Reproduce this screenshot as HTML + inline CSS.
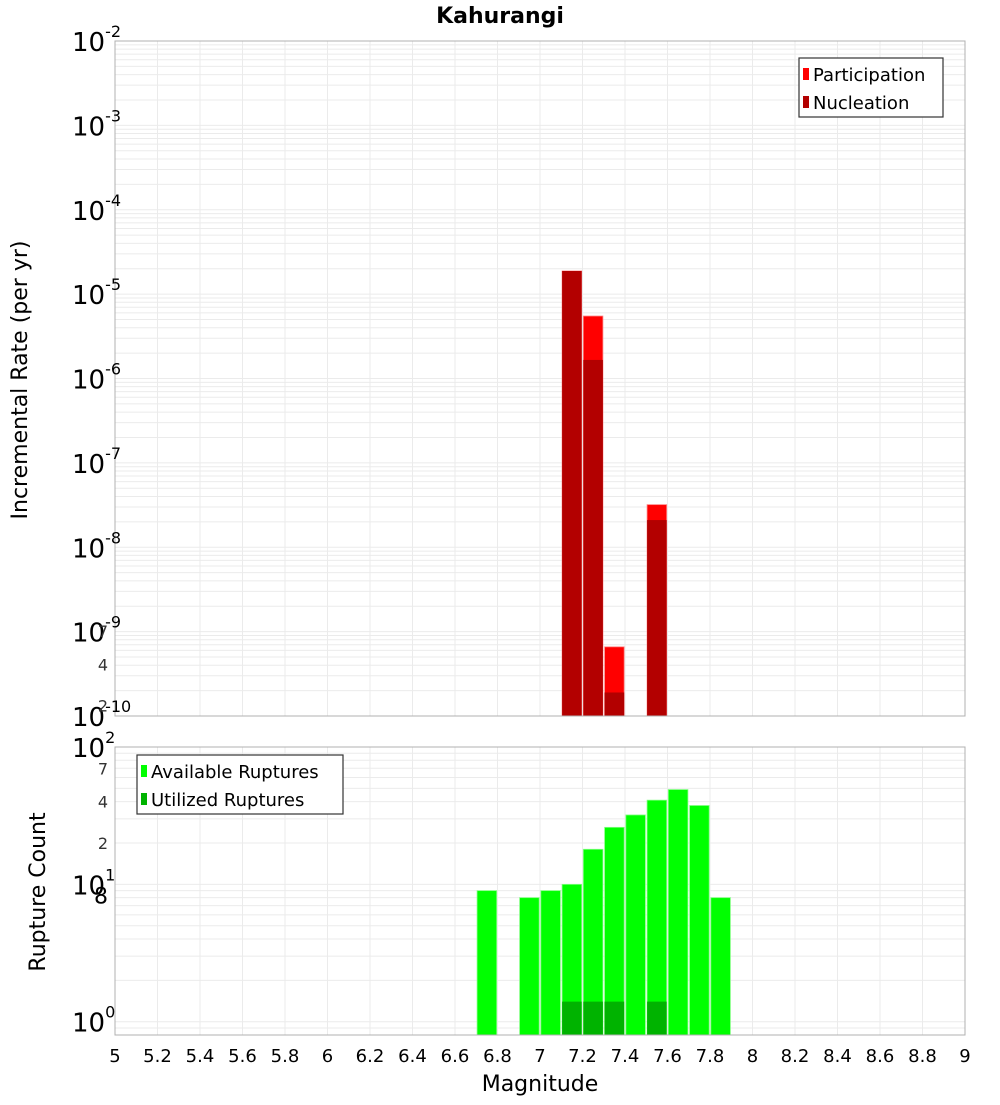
<!DOCTYPE html>
<html><head><meta charset="utf-8"><style>
body{margin:0;background:#fff;font-family:"Liberation Sans","DejaVu Sans",sans-serif}
svg text{font-family:"DejaVu Sans","Liberation Sans",sans-serif}
</style></head><body>
<svg id="c" width="1000" height="1100" xmlns="http://www.w3.org/2000/svg"></svg>
<script>
const topMags=[7.1,7.2,7.3,7.5];
const participation=[1.88e-5,5.5e-6,6.6e-10,3.2e-8];
const nucleation=[1.88e-5,1.66e-6,1.9e-10,2.1e-8];
const botMags=[6.7,6.9,7.0,7.1,7.2,7.3,7.4,7.5,7.6,7.7,7.8];
const available=[9,8,9,10,18,26,32,41,49,37.5,8];
const utilMags=[7.1,7.2,7.3,7.5];
const utilized=[1.4,1.4,1.4,1.4];
const xTicks=[5,5.2,5.4,5.6,5.8,6,6.2,6.4,6.6,6.8,7,7.2,7.4,7.6,7.8,8,8.2,8.4,8.6,8.8,9];
const topExps=[-2,-3,-4,-5,-6,-7,-8,-9,-10];
const botMinor=[[7,2],[4,2],[2,2],[7,1],[4,1],[2,1],[8,0]];

const NS="http://www.w3.org/2000/svg",svg=document.getElementById('c');
function el(t,a,p){const e=document.createElementNS(NS,t);for(const k in a)e.setAttribute(k,a[k]);(p||svg).appendChild(e);return e;}
const L=115,R=965;
const x=m=>L+(m-5)*(R-L)/4;
const T1=41,B1=716,yT=v=>T1+(-2-Math.log10(v))*(B1-T1)/8;
const T2=747,B2=1035,lmin=Math.log10(0.8),lmax=2,yB=v=>B2-(Math.log10(v)-lmin)*(B2-T2)/(lmax-lmin);

function grid(top,bot,yf,lo,hi){
  const g=el('g',{});
  for(let e=lo;e<hi;e++)for(let k=1;k<10;k++){const v=k*Math.pow(10,e),yy=yf(v);if(yy<top-0.5||yy>bot+0.5)continue;
    el('line',{x1:L,x2:R,y1:yy,y2:yy,stroke:'#ebebeb','stroke-width':1},g);}
  for(let i=1;i<xTicks.length-1;i++)el('line',{x1:x(xTicks[i]),x2:x(xTicks[i]),y1:top,y2:bot,stroke:'#ebebeb'},g);
}
grid(T1,B1,yT,-10,-1);
grid(T2,B2,yB,-1,2);

// title
let t=el('text',{x:500,y:23,'text-anchor':'middle','font-size':22,'font-weight':'bold'});t.textContent='Kahurangi';


// top bars
const bw=(R-L)/4*0.092;
topMags.forEach((m,i)=>{
  const cx=x(m+0.05);
  const b=el('rect',{x:cx-bw/2,y:yT(participation[i]),width:bw,height:B1-yT(participation[i]),fill:'#ff0000',stroke:'#ff8080','stroke-width':0.8});
  
  const n=el('rect',{x:cx-bw/2,y:yT(nucleation[i]),width:bw,height:B1-yT(nucleation[i]),fill:'#b30000'});
  
});
// bottom bars
botMags.forEach((m,i)=>{
  const cx=x(m+0.05);
  const b=el('rect',{x:cx-bw/2,y:yB(available[i]),width:bw,height:B2-yB(available[i]),fill:'#00ff00',stroke:'#80ff80','stroke-width':0.8});
  
});
utilMags.forEach((m,i)=>{
  const cx=x(m+0.05);
  const b=el('rect',{x:cx-bw/2,y:yB(utilized[i]),width:bw,height:B2-yB(utilized[i]),fill:'#00b300'});
  
});

// frames
let f1=el('rect',{x:L,y:T1,width:R-L,height:B1-T1,fill:'none',stroke:'#b0b0b0'});

let f2=el('rect',{x:L,y:T2,width:R-L,height:B2-T2,fill:'none',stroke:'#b0b0b0'});


// top y ticks
topExps.forEach(e=>{
  const yy=yT(Math.pow(10,e));
  const tx=el('text',{x:72,y:yy+10,'font-size':26});
  
  tx.appendChild(document.createTextNode('10'));
  const s=el('tspan',{dy:-14,'font-size':16},tx);s.textContent=String(e);
});
// bottom y ticks
[[2,100],[1,10],[0,1]].forEach(([e,v])=>{
  const yy=yB(v);
  const tx=el('text',{x:72,y:yy+10,'font-size':26});
  
  tx.appendChild(document.createTextNode('10'));
  const s=el('tspan',{dy:-14,'font-size':16},tx);s.textContent=String(e);
});
botMinor.forEach(([k,e])=>{
  const yy=yB(k*Math.pow(10,e));
  const tx=el('text',{x:108,y:yy+6,'font-size':k==8?22:16,'text-anchor':'end',fill:k==8?'#000':'#333'});
  
  tx.textContent=String(k);
});
// x ticks
xTicks.forEach(v=>{
  const tx=el('text',{x:x(v),y:1062,'font-size':18,'text-anchor':'middle'});
  
  tx.textContent=String(v);
});
// axis titles
let xt=el('text',{x:540,y:1091,'font-size':22,'text-anchor':'middle'});xt.textContent='Magnitude';

let y1=el('text',{x:0,y:0,'font-size':22,'text-anchor':'middle',transform:'translate(27,380) rotate(-90)'});y1.textContent='Incremental Rate (per yr)';

let y2=el('text',{x:0,y:0,'font-size':22,'text-anchor':'middle',transform:'translate(45,892) rotate(-90)'});y2.textContent='Rupture Count';


// legends
function legend(x0,y0,w,h,items,name){
  const g=el('g',{});
  el('rect',{x:x0,y:y0,width:w,height:h,fill:'#fff',stroke:'#333','stroke-width':1.2},g);
  items.forEach(([c,lab],i)=>{
    const cy=y0+16+i*28;
    el('rect',{x:x0+4,y:cy-6,width:6,height:12,fill:c},g);
    const tx=el('text',{x:x0+14,y:cy+7,'font-size':18},g);tx.textContent=lab;
    
  });
}
legend(799,58,144,59,[['#ff0000','Participation'],['#b30000','Nucleation']],'rate-legend');
legend(137,755,206,59,[['#00ff00','Available Ruptures'],['#00b300','Utilized Ruptures']],'count-legend');
</script>
</body></html>
